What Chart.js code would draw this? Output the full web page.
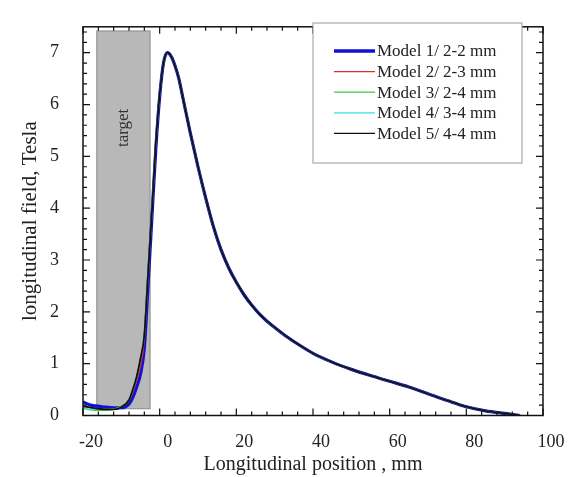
<!DOCTYPE html>
<html>
<head>
<meta charset="utf-8">
<script src="https://cdn.jsdelivr.net/npm/chart.js@4"></script>
<style>
  html, body { margin: 0; padding: 0; background: #fff; }
  #wrap { width: 569px; height: 477px; }
</style>
</head>
<body>
<div id="wrap"><canvas id="myChart" width="569" height="477"></canvas></div>
<script>
// positions along the axis, mm
const xPos = [-20, -18, -16, -14, -12, -10, -8, -7, -6, -5, -4, -3, -2, -1, 0, 1, 2, 3, 4, 5, 6, 8, 10, 12, 14, 16, 18, 20, 22, 24, 26, 28, 30, 33, 36, 40, 45, 50, 55, 60, 65, 70, 75, 80, 85, 90, 94];

// field values, Tesla
const model1 = [0.26, 0.2, 0.18, 0.16, 0.15, 0.15, 0.22, 0.35, 0.55, 0.8, 1.3, 2.55, 3.85, 5.15, 6.15, 6.8, 7.0, 6.93, 6.75, 6.5, 6.15, 5.45, 4.8, 4.2, 3.65, 3.2, 2.85, 2.57, 2.33, 2.13, 1.96, 1.82, 1.7, 1.53, 1.38, 1.2, 1.03, 0.89, 0.77, 0.66, 0.55, 0.42, 0.29, 0.17, 0.09, 0.04, 0.0];
const model2 = [0.18, 0.15, 0.13, 0.12, 0.12, 0.16, 0.28, 0.45, 0.68, 0.95, 1.45, 2.65, 3.9, 5.2, 6.18, 6.8, 7.0, 6.93, 6.75, 6.5, 6.15, 5.45, 4.8, 4.2, 3.65, 3.2, 2.85, 2.57, 2.33, 2.13, 1.96, 1.82, 1.7, 1.53, 1.38, 1.2, 1.03, 0.89, 0.77, 0.66, 0.55, 0.42, 0.29, 0.17, 0.09, 0.04, 0.0];
const model3 = [0.14, 0.11, 0.1, 0.1, 0.12, 0.18, 0.3, 0.5, 0.75, 1.1, 1.55, 2.75, 3.95, 5.25, 6.2, 6.8, 7.0, 6.93, 6.75, 6.5, 6.15, 5.45, 4.8, 4.2, 3.65, 3.2, 2.85, 2.57, 2.33, 2.13, 1.96, 1.82, 1.7, 1.53, 1.38, 1.2, 1.03, 0.89, 0.77, 0.66, 0.55, 0.42, 0.29, 0.17, 0.09, 0.04, 0.0];
const model4 = [0.16, 0.12, 0.12, 0.12, 0.13, 0.16, 0.3, 0.5, 0.75, 1.1, 1.55, 2.75, 3.95, 5.25, 6.2, 6.8, 7.0, 6.93, 6.75, 6.5, 6.15, 5.45, 4.8, 4.2, 3.65, 3.2, 2.85, 2.57, 2.33, 2.13, 1.96, 1.82, 1.7, 1.53, 1.38, 1.2, 1.03, 0.89, 0.77, 0.66, 0.55, 0.42, 0.29, 0.17, 0.09, 0.04, 0.0];
const model5 = [0.18, 0.15, 0.13, 0.12, 0.12, 0.16, 0.3, 0.5, 0.75, 1.1, 1.55, 2.75, 3.95, 5.25, 6.2, 6.8, 7.0, 6.93, 6.75, 6.5, 6.15, 5.45, 4.8, 4.2, 3.65, 3.2, 2.85, 2.57, 2.33, 2.13, 1.96, 1.82, 1.7, 1.53, 1.38, 1.2, 1.03, 0.89, 0.77, 0.66, 0.55, 0.42, 0.29, 0.17, 0.09, 0.04, 0.0];

const seriesNames = ["Model 1/ 2-2 mm", "Model 2/ 2-3 mm", "Model 3/ 2-4 mm", "Model 4/ 3-4 mm", "Model 5/ 4-4 mm"];
const seriesColors = ["#1010d8", "#d83030", "#40c840", "#40dede", "#101010"];
const seriesWidths = [3.2, 1.3, 1.3, 1.3, 1.8];

const xTickVals = [-20, 0, 20, 40, 60, 80, 100];
const yTickVals = [0, 1, 2, 3, 4, 5, 6, 7];

// target region (mm, Tesla)
const targetX = [-16.4, -2.5];
const targetY = [0.13, 7.42];

const serif = "'Liberation Serif', 'DejaVu Serif', serif";

function toPoints(ys) {
  return xPos.map((x, i) => ({ x: x, y: ys[i] }));
}

const framePlugin = {
  id: "frame",
  beforeDatasetsDraw(chart) {
    const ctx = chart.ctx;
    const xs = chart.scales.x;
    const ys = chart.scales.y;
    const x0 = xs.getPixelForValue(targetX[0]);
    const x1 = xs.getPixelForValue(targetX[1]);
    const y0 = ys.getPixelForValue(targetY[1]);
    const y1 = ys.getPixelForValue(targetY[0]);
    ctx.save();
    ctx.fillStyle = "#b8b8b8";
    ctx.fillRect(x0, y0, x1 - x0, y1 - y0);
    ctx.strokeStyle = "#8a8a8a";
    ctx.lineWidth = 1;
    ctx.strokeRect(x0, y0, x1 - x0, y1 - y0);
    // label
    ctx.translate((x0 + x1) / 2, ys.getPixelForValue(5.55));
    ctx.rotate(-Math.PI / 2);
    ctx.fillStyle = "#333";
    ctx.font = "17px " + serif;
    ctx.textAlign = "center";
    ctx.textBaseline = "middle";
    ctx.fillText("target", 0, 0);
    ctx.restore();
  },
  afterDatasetsDraw(chart) {
    const ctx = chart.ctx;
    const a = chart.chartArea;
    const xs = chart.scales.x;
    const ys = chart.scales.y;
    ctx.save();
    ctx.strokeStyle = "#111";
    ctx.lineWidth = 1.5;
    ctx.strokeRect(a.left, a.top, a.right - a.left, a.bottom - a.top);

    ctx.lineWidth = 1.2;
    ctx.beginPath();
    // x ticks, bottom and top, inward
    for (let v = -20; v <= 100; v += 4) {
      const px = xs.getPixelForValue(v);
      const len = v % 20 === 0 ? 7 : 4;
      ctx.moveTo(px, a.bottom);
      ctx.lineTo(px, a.bottom - len);
      ctx.moveTo(px, a.top);
      ctx.lineTo(px, a.top + len);
    }
    // y ticks, left and right, inward
    for (let k = 0; k <= 37; k++) {
      const v = k * 0.2;
      const py = ys.getPixelForValue(v);
      const len = k % 5 === 0 ? 7 : 4;
      ctx.moveTo(a.left, py);
      ctx.lineTo(a.left + len, py);
      ctx.moveTo(a.right, py);
      ctx.lineTo(a.right - len, py);
    }
    ctx.stroke();

    // legend box
    const bx = 313, by = 23, bw = 209, bh = 140;
    ctx.fillStyle = "#fff";
    ctx.fillRect(bx, by, bw, bh);
    ctx.strokeStyle = "#999";
    ctx.lineWidth = 1;
    ctx.strokeRect(bx, by, bw, bh);
    ctx.font = "17px " + serif;
    ctx.textBaseline = "middle";
    ctx.textAlign = "left";
    chart.data.datasets.forEach((ds, i) => {
      const ry = by + 28 + i * 20.6;
      ctx.strokeStyle = ds.borderColor;
      ctx.lineWidth = i === 0 ? 3.5 : 1.3;
      ctx.beginPath();
      ctx.moveTo(bx + 21, ry);
      ctx.lineTo(bx + 62, ry);
      ctx.stroke();
      ctx.fillStyle = "#222";
      ctx.fillText(ds.label, bx + 64, ry + 1);
    });
    ctx.restore();
  },
};

const allSeries = [model1, model2, model3, model4, model5];

const ctx = document.getElementById("myChart").getContext("2d");
const chart = new Chart(ctx, {
  type: "line",
  data: {
    datasets: allSeries.map((ys, i) => ({
      label: seriesNames[i],
      data: toPoints(ys),
      borderColor: seriesColors[i],
      backgroundColor: seriesColors[i],
      borderWidth: seriesWidths[i],
      pointRadius: 0,
      fill: false,
      cubicInterpolationMode: "monotone",
      order: 5 - i,
    })),
  },
  options: {
    responsive: false,
    animation: false,
    layout: { padding: { left: 14, top: 8, right: 26, bottom: 0 } },
    plugins: {
      legend: { display: false },
      tooltip: { enabled: false },
    },
    scales: {
      x: {
        type: "linear",
        min: -20,
        max: 100,
        afterBuildTicks: (scale) => {
          scale.ticks = xTickVals.map((v) => ({ value: v }));
        },
        afterFit: (scale) => {
          scale.height = 61.5;
        },
        grid: { display: false },
        border: { display: false },
        ticks: {
          color: "#222",
          padding: 8,
          labelOffset: 8,
          font: { family: serif, size: 18 },
          maxRotation: 0,
        },
        title: {
          display: true,
          text: "Longitudinal position , mm",
          color: "#222",
          font: { family: serif, size: 20 },
          padding: { top: 4, bottom: 0 },
        },
      },
      y: {
        type: "linear",
        min: 0,
        max: 7.5,
        afterBuildTicks: (scale) => {
          scale.ticks = yTickVals.map((v) => ({ value: v }));
        },
        afterFit: (scale) => {
          scale.width = 69;
        },
        grid: { display: false },
        border: { display: false },
        ticks: {
          color: "#222",
          padding: 16,
          font: { family: serif, size: 18 },
        },
        title: {
          display: true,
          text: "longitudinal field, Tesla",
          color: "#222",
          font: { family: serif, size: 21 },
          padding: { top: 4, bottom: 0 },
        },
      },
    },
  },
  plugins: [framePlugin],
});
</script>
</body>
</html>
